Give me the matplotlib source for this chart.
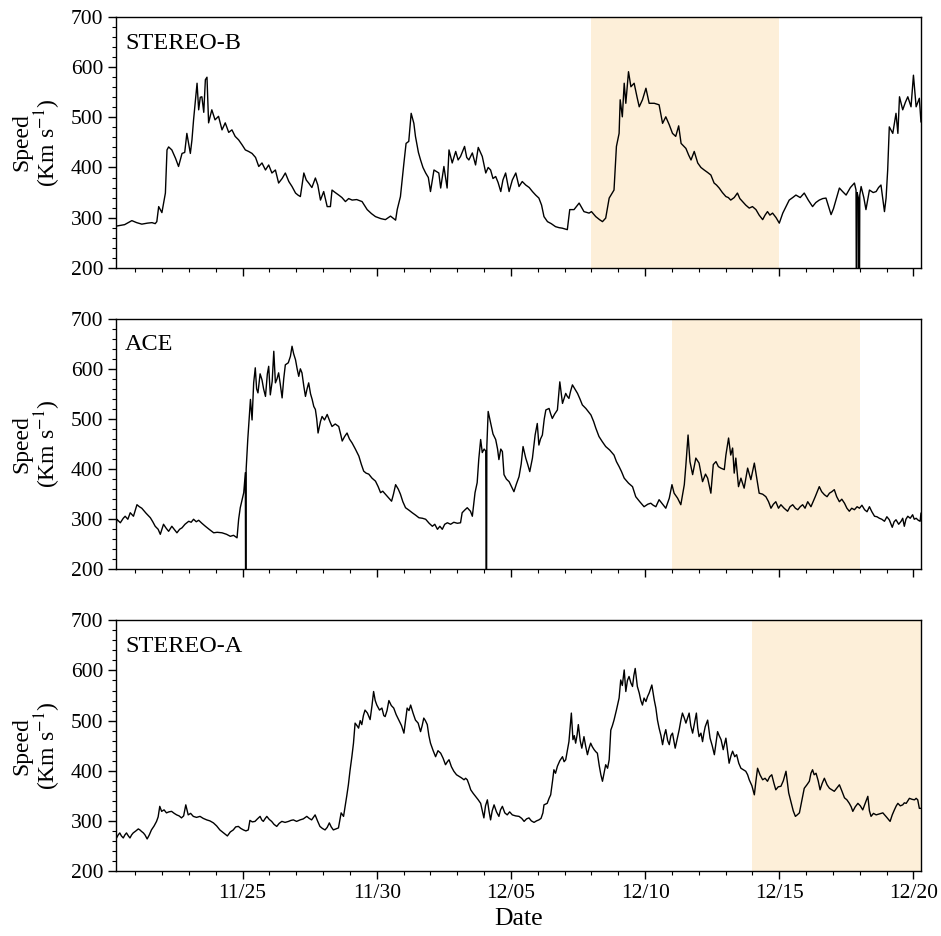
import numpy as np
import matplotlib
matplotlib.use("Agg")
import matplotlib.pyplot as plt
import matplotlib.dates as mdates
from matplotlib.ticker import MultipleLocator
from datetime import datetime

# time in days after 2012-11-20 00:00, speed in km/s
stereo_b = [
    (0.28, 283), (0.60, 286), (0.87, 294), (1.05, 290), (1.24, 287), (1.45, 289),
    (1.62, 290), (1.74, 288), (1.80, 292), (1.87, 322), (1.99, 310), (2.12, 349),
    (2.18, 435), (2.24, 441), (2.36, 435), (2.50, 418), (2.61, 402), (2.74, 428),
    (2.84, 430), (2.92, 468), (3.05, 428), (3.11, 455), (3.17, 495), (3.24, 535),
    (3.30, 568), (3.36, 515), (3.42, 540), (3.48, 541), (3.55, 510), (3.61, 575),
    (3.67, 580), (3.73, 489), (3.85, 515), (3.97, 495), (4.10, 502), (4.23, 475),
    (4.35, 489), (4.48, 470), (4.60, 475), (4.72, 462), (4.85, 455), (4.98, 445),
    (5.10, 435), (5.22, 432), (5.35, 428), (5.48, 420), (5.60, 402), (5.72, 409),
    (5.85, 395), (5.97, 405), (6.09, 389), (6.22, 395), (6.34, 369), (6.47, 378),
    (6.59, 389), (6.72, 372), (6.84, 362), (6.97, 349), (7.06, 345), (7.15, 342),
    (7.28, 389), (7.37, 375), (7.46, 369), (7.58, 360), (7.71, 379), (7.80, 365),
    (7.90, 335), (8.02, 352), (8.15, 322), (8.27, 322), (8.33, 355), (8.45, 350),
    (8.58, 345), (8.70, 340), (8.83, 332), (8.95, 338), (9.08, 335), (9.25, 336),
    (9.45, 332), (9.64, 316), (9.80, 308), (9.95, 302), (10.15, 298), (10.32, 296),
    (10.51, 303), (10.70, 295), (10.76, 316), (10.88, 342), (11.01, 409), (11.09, 448),
    (11.19, 452), (11.28, 508), (11.38, 488), (11.44, 462), (11.55, 430), (11.63, 415),
    (11.72, 400), (11.82, 389), (11.92, 380), (12.00, 352), (12.13, 395), (12.31, 389),
    (12.38, 359), (12.50, 402), (12.62, 359), (12.69, 435), (12.81, 409), (12.94, 432),
    (13.03, 415), (13.12, 422), (13.27, 442), (13.35, 420), (13.43, 415), (13.56, 429),
    (13.68, 405), (13.78, 440), (13.93, 422), (14.06, 389), (14.15, 400), (14.24, 395),
    (14.33, 378), (14.43, 382), (14.52, 370), (14.62, 352), (14.70, 375), (14.80, 389),
    (14.93, 352), (15.05, 375), (15.18, 389), (15.30, 362), (15.42, 372), (15.55, 365),
    (15.68, 360), (15.80, 352), (15.92, 345), (16.04, 339), (16.14, 325), (16.23, 302),
    (16.36, 292), (16.50, 288), (16.66, 282), (16.79, 280), (16.91, 279), (17.10, 276),
    (17.19, 316), (17.35, 316), (17.54, 329), (17.72, 312), (17.91, 309), (18.00, 312),
    (18.16, 302), (18.30, 296), (18.41, 292), (18.53, 299), (18.66, 339), (18.84, 355),
    (18.93, 442), (19.03, 468), (19.07, 535), (19.15, 501), (19.22, 568), (19.28, 528),
    (19.38, 591), (19.47, 561), (19.59, 568), (19.70, 540), (19.78, 521), (19.90, 535),
    (20.03, 558), (20.15, 528), (20.34, 528), (20.52, 525), (20.65, 488), (20.77, 501),
    (20.90, 485), (21.02, 468), (21.14, 462), (21.25, 483), (21.34, 448), (21.52, 438),
    (21.62, 425), (21.71, 415), (21.83, 432), (21.96, 409), (22.08, 400), (22.20, 395),
    (22.33, 390), (22.45, 385), (22.57, 369), (22.66, 365), (22.76, 359), (22.88, 350),
    (23.01, 342), (23.10, 340), (23.19, 335), (23.32, 340), (23.44, 349), (23.53, 338),
    (23.63, 332), (23.75, 325), (23.88, 319), (24.00, 322), (24.13, 316), (24.25, 305),
    (24.38, 296), (24.47, 305), (24.56, 312), (24.65, 305), (24.75, 309), (24.88, 300),
    (25.00, 289), (25.13, 309), (25.25, 322), (25.37, 335), (25.50, 340), (25.62, 345),
    (25.78, 340), (25.93, 349), (26.08, 335), (26.24, 322), (26.36, 330), (26.49, 335),
    (26.62, 338), (26.74, 339), (26.85, 320), (26.93, 306), (27.02, 318), (27.11, 335),
    (27.24, 359), (27.36, 352), (27.49, 345), (27.65, 360), (27.80, 369), (27.86, 355),
    (27.88, 0), (27.90, 350), (27.95, 339), (27.98, 0), (28.00, 345), (28.05, 362),
    (28.15, 340), (28.23, 316), (28.36, 355), (28.50, 350), (28.61, 352), (28.70, 360),
    (28.79, 365), (28.92, 312), (28.98, 339), (29.04, 395), (29.10, 481), (29.23, 468),
    (29.35, 508), (29.42, 468), (29.48, 541), (29.60, 515), (29.70, 530), (29.79, 541),
    (29.91, 521), (30.00, 584), (30.10, 521), (30.22, 538), (30.28, 491),
]

ace = [
    (0.28, 286), (0.31, 300), (0.44, 293), (0.55, 302), (0.62, 306), (0.72, 300),
    (0.81, 313), (0.93, 306), (1.00, 318), (1.06, 329), (1.15, 325), (1.24, 322),
    (1.40, 312), (1.56, 303), (1.65, 295), (1.74, 286), (1.85, 280), (1.93, 270),
    (2.05, 290), (2.15, 282), (2.24, 276), (2.36, 286), (2.45, 280), (2.55, 273),
    (2.65, 280), (2.74, 283), (2.85, 290), (2.99, 296), (3.08, 294), (3.17, 300),
    (3.27, 295), (3.36, 298), (3.48, 292), (3.61, 286), (3.75, 280), (3.92, 273),
    (4.05, 274), (4.23, 273), (4.40, 270), (4.54, 266), (4.66, 268), (4.79, 263),
    (4.85, 300), (4.91, 323), (5.04, 353), (5.10, 393), (5.115, 0), (5.13, 400),
    (5.19, 459), (5.29, 539), (5.35, 498), (5.41, 572), (5.47, 602), (5.52, 560),
    (5.57, 552), (5.65, 590), (5.72, 578), (5.78, 560), (5.85, 545), (5.92, 590),
    (5.97, 605), (6.03, 548), (6.10, 575), (6.16, 635), (6.22, 572), (6.28, 580),
    (6.34, 592), (6.40, 570), (6.47, 542), (6.53, 580), (6.59, 608), (6.70, 612),
    (6.78, 625), (6.84, 645), (6.90, 630), (6.97, 618), (7.03, 600), (7.09, 585),
    (7.15, 600), (7.21, 592), (7.28, 565), (7.34, 545), (7.40, 560), (7.46, 572),
    (7.53, 550), (7.59, 539), (7.65, 525), (7.71, 519), (7.76, 500), (7.81, 472),
    (7.90, 495), (7.96, 505), (8.05, 498), (8.15, 509), (8.25, 495), (8.33, 485),
    (8.45, 490), (8.58, 485), (8.65, 470), (8.71, 456), (8.80, 465), (8.89, 472),
    (8.98, 460), (9.08, 452), (9.20, 440), (9.33, 426), (9.42, 410), (9.51, 396),
    (9.60, 392), (9.70, 390), (9.82, 382), (9.95, 376), (10.05, 365), (10.14, 353),
    (10.22, 356), (10.32, 350), (10.45, 342), (10.55, 336), (10.62, 350), (10.70, 369),
    (10.80, 360), (10.88, 350), (10.97, 335), (11.07, 323), (11.20, 318), (11.32, 313),
    (11.45, 308), (11.57, 303), (11.70, 302), (11.82, 300), (11.95, 292), (12.07, 286),
    (12.16, 290), (12.26, 280), (12.35, 286), (12.44, 280), (12.53, 290), (12.63, 293),
    (12.75, 290), (12.87, 294), (13.00, 292), (13.12, 293), (13.18, 313), (13.27, 318),
    (13.37, 323), (13.49, 316), (13.56, 306), (13.66, 353), (13.74, 373), (13.80, 420),
    (13.87, 459), (13.93, 433), (14.00, 440), (14.06, 436), (14.085, 0), (14.10, 445),
    (14.15, 515), (14.24, 492), (14.33, 470), (14.43, 459), (14.50, 440), (14.55, 419),
    (14.62, 440), (14.68, 435), (14.74, 389), (14.83, 380), (14.93, 375), (15.02, 365),
    (15.11, 355), (15.20, 370), (15.30, 385), (15.38, 410), (15.45, 445), (15.55, 422),
    (15.62, 410), (15.70, 395), (15.80, 422), (15.90, 468), (15.98, 491), (16.04, 448),
    (16.10, 460), (16.17, 468), (16.24, 500), (16.30, 518), (16.42, 521), (16.48, 510),
    (16.54, 501), (16.63, 510), (16.73, 518), (16.82, 574), (16.92, 531), (17.04, 551),
    (17.10, 545), (17.16, 541), (17.22, 555), (17.29, 568), (17.38, 560), (17.48, 551),
    (17.57, 540), (17.66, 528), (17.79, 521), (17.88, 515), (17.98, 508), (18.08, 495),
    (18.16, 482), (18.28, 465), (18.40, 455), (18.53, 445), (18.68, 438), (18.84, 428),
    (18.93, 415), (19.03, 405), (19.12, 395), (19.22, 382), (19.38, 372), (19.53, 365),
    (19.65, 345), (19.80, 335), (19.96, 325), (20.10, 330), (20.21, 332), (20.30, 328),
    (20.40, 325), (20.52, 339), (20.65, 330), (20.77, 322), (20.90, 342), (21.00, 369),
    (21.08, 352), (21.21, 342), (21.33, 329), (21.46, 369), (21.52, 409), (21.60, 468),
    (21.67, 415), (21.77, 389), (21.89, 422), (22.01, 412), (22.14, 375), (22.25, 390),
    (22.33, 382), (22.45, 352), (22.54, 409), (22.64, 415), (22.73, 405), (22.82, 402),
    (22.95, 399), (23.01, 428), (23.11, 462), (23.19, 428), (23.26, 442), (23.32, 392),
    (23.38, 422), (23.48, 365), (23.57, 382), (23.69, 362), (23.82, 402), (23.94, 379),
    (24.07, 412), (24.19, 372), (24.25, 352), (24.38, 350), (24.50, 345), (24.60, 335),
    (24.69, 322), (24.78, 330), (24.87, 335), (24.97, 322), (25.06, 329), (25.18, 322),
    (25.31, 316), (25.40, 325), (25.50, 329), (25.60, 322), (25.69, 319), (25.78, 325),
    (25.87, 329), (25.96, 322), (26.06, 335), (26.18, 325), (26.34, 345), (26.49, 365),
    (26.58, 355), (26.68, 349), (26.78, 345), (26.87, 352), (26.96, 355), (27.05, 359),
    (27.14, 345), (27.24, 335), (27.33, 340), (27.43, 332), (27.52, 322), (27.61, 316),
    (27.70, 322), (27.80, 319), (27.90, 325), (27.99, 322), (28.08, 328), (28.18, 319),
    (28.27, 315), (28.36, 325), (28.45, 315), (28.55, 306), (28.64, 305), (28.73, 302),
    (28.82, 300), (28.92, 296), (29.01, 305), (29.10, 299), (29.21, 284), (29.28, 295),
    (29.35, 299), (29.45, 290), (29.54, 296), (29.60, 302), (29.66, 286), (29.72, 300),
    (29.79, 306), (29.88, 302), (29.97, 309), (30.03, 300), (30.10, 302), (30.18, 298),
    (30.25, 296), (30.28, 312),
]

stereo_a = [
    (0.28, 272), (0.30, 266), (0.36, 272), (0.42, 276), (0.48, 270), (0.55, 266),
    (0.61, 272), (0.67, 276), (0.74, 270), (0.80, 266), (0.86, 272), (0.92, 276),
    (1.02, 280), (1.11, 284), (1.17, 282), (1.23, 279), (1.30, 276), (1.36, 272),
    (1.44, 264), (1.52, 272), (1.60, 282), (1.70, 290), (1.79, 299), (1.85, 308),
    (1.91, 329), (1.98, 319), (2.07, 322), (2.16, 316), (2.25, 318), (2.35, 319),
    (2.45, 315), (2.54, 312), (2.63, 310), (2.72, 306), (2.80, 310), (2.88, 332),
    (2.97, 312), (3.06, 315), (3.16, 309), (3.28, 307), (3.41, 309), (3.53, 305),
    (3.66, 302), (3.78, 300), (3.91, 296), (4.03, 290), (4.15, 282), (4.29, 276),
    (4.43, 270), (4.54, 278), (4.65, 282), (4.74, 288), (4.84, 289), (4.93, 285),
    (5.03, 282), (5.12, 280), (5.21, 282), (5.27, 301), (5.36, 298), (5.46, 299),
    (5.55, 304), (5.65, 309), (5.71, 302), (5.77, 299), (5.83, 304), (5.90, 309),
    (5.99, 303), (6.08, 299), (6.17, 293), (6.27, 289), (6.36, 295), (6.46, 299),
    (6.58, 297), (6.71, 299), (6.80, 301), (6.89, 302), (7.01, 299), (7.14, 302),
    (7.26, 304), (7.39, 309), (7.48, 305), (7.57, 302), (7.70, 312), (7.79, 300),
    (7.88, 289), (7.97, 285), (8.07, 282), (8.15, 287), (8.23, 296), (8.30, 288),
    (8.38, 282), (8.47, 284), (8.57, 286), (8.67, 316), (8.76, 309), (8.82, 329),
    (8.88, 350), (8.94, 372), (9.00, 400), (9.07, 428), (9.13, 455), (9.19, 495),
    (9.26, 490), (9.32, 485), (9.38, 500), (9.44, 492), (9.50, 510), (9.56, 521),
    (9.65, 515), (9.75, 502), (9.82, 530), (9.88, 558), (9.94, 540), (10.00, 531),
    (10.10, 521), (10.19, 525), (10.26, 510), (10.31, 508), (10.38, 520), (10.45, 540),
    (10.54, 530), (10.63, 525), (10.72, 512), (10.82, 501), (10.92, 490), (11.01, 475),
    (11.07, 500), (11.13, 525), (11.20, 520), (11.26, 531), (11.35, 515), (11.44, 501),
    (11.54, 495), (11.63, 478), (11.69, 490), (11.75, 505), (11.81, 500), (11.88, 492),
    (11.94, 470), (12.00, 455), (12.10, 440), (12.19, 428), (12.28, 440), (12.38, 435),
    (12.47, 425), (12.56, 412), (12.63, 418), (12.69, 422), (12.78, 408), (12.87, 399),
    (12.97, 392), (13.06, 389), (13.15, 386), (13.25, 382), (13.31, 385), (13.37, 382),
    (13.44, 372), (13.50, 362), (13.59, 355), (13.68, 349), (13.78, 342), (13.87, 335),
    (13.93, 320), (13.99, 306), (14.05, 330), (14.12, 342), (14.18, 320), (14.24, 302),
    (14.30, 320), (14.37, 332), (14.46, 318), (14.55, 309), (14.61, 322), (14.68, 329),
    (14.77, 316), (14.86, 312), (14.95, 318), (15.05, 312), (15.17, 310), (15.30, 309),
    (15.40, 305), (15.49, 299), (15.58, 304), (15.67, 306), (15.76, 300), (15.86, 297),
    (15.95, 300), (16.04, 302), (16.12, 305), (16.19, 316), (16.23, 332), (16.35, 335),
    (16.42, 345), (16.48, 352), (16.55, 380), (16.60, 402), (16.66, 395), (16.73, 409),
    (16.82, 420), (16.92, 428), (16.98, 418), (17.04, 422), (17.10, 440), (17.16, 458),
    (17.25, 515), (17.31, 462), (17.36, 470), (17.41, 455), (17.46, 470), (17.51, 492),
    (17.58, 460), (17.64, 445), (17.72, 468), (17.78, 450), (17.85, 432), (17.91, 445),
    (17.97, 455), (18.03, 448), (18.10, 442), (18.16, 438), (18.22, 435), (18.29, 410),
    (18.35, 392), (18.41, 379), (18.47, 395), (18.53, 412), (18.60, 405), (18.66, 422),
    (18.72, 481), (18.78, 490), (18.84, 501), (18.93, 521), (19.03, 545), (19.09, 581),
    (19.15, 570), (19.22, 601), (19.28, 558), (19.34, 580), (19.40, 588), (19.47, 575),
    (19.53, 568), (19.58, 590), (19.63, 604), (19.71, 568), (19.78, 555), (19.84, 540),
    (19.90, 531), (19.96, 545), (20.03, 538), (20.09, 548), (20.15, 555), (20.25, 571),
    (20.34, 541), (20.40, 525), (20.46, 501), (20.52, 485), (20.59, 470), (20.65, 452),
    (20.71, 470), (20.77, 482), (20.84, 460), (20.90, 452), (20.96, 470), (21.02, 475),
    (21.12, 445), (21.20, 465), (21.27, 482), (21.33, 500), (21.39, 515), (21.46, 505),
    (21.52, 495), (21.58, 505), (21.64, 515), (21.70, 490), (21.77, 475), (21.84, 495),
    (21.91, 515), (21.96, 485), (22.01, 468), (22.08, 475), (22.14, 458), (22.19, 475),
    (22.24, 488), (22.33, 501), (22.42, 465), (22.50, 450), (22.58, 432), (22.64, 455),
    (22.70, 478), (22.76, 470), (22.83, 462), (22.91, 442), (23.01, 465), (23.07, 440),
    (23.13, 415), (23.20, 430), (23.26, 439), (23.34, 428), (23.41, 432), (23.49, 415),
    (23.57, 405), (23.66, 402), (23.75, 399), (23.82, 392), (23.88, 382), (23.98, 370),
    (24.07, 352), (24.13, 380), (24.19, 405), (24.28, 392), (24.38, 382), (24.47, 385),
    (24.56, 379), (24.64, 388), (24.72, 392), (24.80, 375), (24.87, 362), (24.96, 368),
    (25.06, 369), (25.15, 380), (25.25, 399), (25.35, 356), (25.43, 339), (25.52, 320),
    (25.60, 309), (25.67, 312), (25.75, 316), (25.84, 340), (25.93, 365), (26.03, 372),
    (26.12, 379), (26.18, 395), (26.24, 402), (26.30, 392), (26.37, 395), (26.45, 380),
    (26.52, 362), (26.60, 375), (26.68, 385), (26.78, 372), (26.87, 365), (26.96, 362),
    (27.05, 359), (27.14, 365), (27.24, 372), (27.33, 360), (27.43, 346), (27.52, 342),
    (27.61, 335), (27.68, 328), (27.74, 319), (27.83, 328), (27.93, 335), (28.02, 330),
    (28.11, 322), (28.20, 335), (28.30, 349), (28.36, 320), (28.42, 309), (28.51, 315),
    (28.61, 312), (28.74, 314), (28.86, 316), (28.99, 308), (29.13, 299), (29.21, 312),
    (29.29, 322), (29.36, 330), (29.42, 335), (29.51, 330), (29.60, 332), (29.66, 336),
    (29.73, 335), (29.79, 340), (29.85, 345), (29.95, 343), (30.04, 342), (30.10, 345),
    (30.16, 342), (30.22, 325), (30.28, 325),
]

names = ["STEREO-B", "ACE", "STEREO-A"]
series = [stereo_b, ace, stereo_a]
# shaded intervals (start, end) in days after 11/20
shades = [(18.0, 25.0), (21.0, 28.0), (24.0, 31.0)]

base = mdates.date2num(datetime(2012, 11, 20))
x_start, x_end = 0.28, 30.28

plt.rcParams['font.family'] = ['Liberation Serif', 'DejaVu Serif']
plt.rcParams['mathtext.fontset'] = 'stix'

fig, axes = plt.subplots(3, 1, figsize=(9.41, 9.36), dpi=100, sharex=True)
fig.subplots_adjust(left=0.1233, right=0.9787, top=0.9818, bottom=0.0694, hspace=0.203)

for ax, name, data, (s0, s1) in zip(axes, names, series, shades):
    arr = np.array(data, dtype=float)
    t = base + arr[:, 0]
    ax.axvspan(base + s0, base + s1, color='#FDEFD9', lw=0, zorder=0)
    ax.plot(t, arr[:, 1], color='black', lw=1.0, zorder=2)
    ax.set_ylim(200, 700)
    ax.set_xlim(base + x_start, base + x_end)
    ax.yaxis.set_major_locator(MultipleLocator(100))
    ax.yaxis.set_minor_locator(MultipleLocator(20))
    ax.set_ylabel("Speed\n(Km s$^{-1}$)", fontsize=17, linespacing=1.0, labelpad=6)
    ax.text(0.011, 0.895, name, transform=ax.transAxes, fontsize=17.5, va='center', ha='left')
    ax.tick_params(axis='both', which='major', direction='out', length=5.5, width=1,
                   labelsize=15.5)
    ax.tick_params(axis='both', which='minor', direction='out', length=3, width=0.8)
    for sp in ax.spines.values():
        sp.set_linewidth(1.0)

ax = axes[-1]
ax.xaxis.set_major_locator(mdates.DayLocator(bymonthday=[5, 10, 15, 20, 25, 30]))
ax.xaxis.set_minor_locator(mdates.DayLocator())
ax.xaxis.set_major_formatter(mdates.DateFormatter('%m/%d'))
ax.set_xlabel("Date", fontsize=18.5)

fig.savefig("out.png", dpi=100)
